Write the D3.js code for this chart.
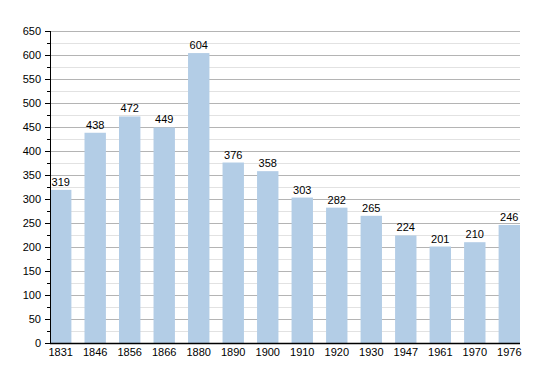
<!DOCTYPE html>
<html>
<head>
<meta charset="utf-8">
<script src="https://cdn.jsdelivr.net/npm/d3@7"></script>
<style>
  body { margin: 0; background: #fff; }
  text { font-family: "Liberation Sans", Arial, sans-serif; }
</style>
</head>
<body>
<div id="chart"></div>
<script>
// data
var years = ['1831', '1846', '1856', '1866', '1880', '1890', '1900', '1910', '1920', '1930', '1947', '1961', '1970', '1976'];
var population = [319, 438, 472, 449, 604, 376, 358, 303, 282, 265, 224, 201, 210, 246];
var yTicks = [0, 50, 100, 150, 200, 250, 300, 350, 400, 450, 500, 550, 600, 650];
var yMinor = d3.range(25, 650, 50);

var width = 550, height = 373;
var margin = { top: 31, right: 30, bottom: 30, left: 50 };
var w = width - margin.left - margin.right;
var h = height - margin.top - margin.bottom;

var svg = d3.select('#chart').append('svg')
    .attr('width', width)
    .attr('height', height);

var g = svg.append('g')
    .attr('transform', 'translate(' + margin.left + ',' + margin.top + ')');

var x = d3.scaleBand()
    .domain(years)
    .range([0, w])
    .paddingInner(0.38)
    .paddingOuter(0);

var y = d3.scaleLinear()
    .domain([0, 650])
    .range([h, 0]);

// minor gridlines
g.selectAll('.minor').data(yMinor).enter().append('line')
    .attr('x1', 0).attr('x2', w)
    .attr('y1', d => Math.round(y(d)) + 0.5).attr('y2', d => Math.round(y(d)) + 0.5)
    .attr('stroke', '#e2e2e2');

// major gridlines
g.selectAll('.major').data(yTicks.slice(1)).enter().append('line')
    .attr('x1', 0).attr('x2', w)
    .attr('y1', d => Math.round(y(d)) + 0.5).attr('y2', d => Math.round(y(d)) + 0.5)
    .attr('stroke', '#b4b4b4');

// bars
g.selectAll('rect').data(population).enter().append('rect')
    .attr('x', (d, i) => x(years[i]))
    .attr('y', d => y(d))
    .attr('width', x.bandwidth())
    .attr('height', d => h - y(d))
    .attr('fill', '#b3cde6');

// value labels
g.selectAll('.val').data(population).enter().append('text')
    .attr('x', (d, i) => x(years[i]) + x.bandwidth() / 2)
    .attr('y', d => y(d) - 4)
    .attr('text-anchor', 'middle')
    .attr('font-size', 11)
    .attr('fill', '#000')
    .text(d => d);

// y axis
var yAxis = g.append('g')
    .call(d3.axisLeft(y).tickValues(yTicks).tickSize(5).tickPadding(4));
yAxis.select('.domain').remove();
yAxis.selectAll('text').attr('font-size', 11).attr('fill', '#000').style('font-family', '"Liberation Sans", Arial, sans-serif');

// minor ticks
g.selectAll('.mtick').data(yMinor).enter().append('line')
    .attr('x1', -3).attr('x2', 0)
    .attr('y1', d => Math.round(y(d)) + 0.5).attr('y2', d => Math.round(y(d)) + 0.5)
    .attr('stroke', '#000');

g.append('line')
    .attr('x1', 0.5).attr('x2', 0.5)
    .attr('y1', 0).attr('y2', h)
    .attr('stroke', '#000');

// x axis
var xAxis = g.append('g')
    .attr('transform', 'translate(0,' + h + ')')
    .call(d3.axisBottom(x).tickSize(0).tickPadding(5));
xAxis.select('.domain').remove();
xAxis.selectAll('text').attr('font-size', 11).attr('fill', '#000').style('font-family', '"Liberation Sans", Arial, sans-serif');

g.append('line')
    .attr('x1', 0).attr('x2', w)
    .attr('y1', h + 0.5).attr('y2', h + 0.5)
    .attr('stroke', '#000')
    .attr('stroke-width', 1.5);
</script>
</body>
</html>
